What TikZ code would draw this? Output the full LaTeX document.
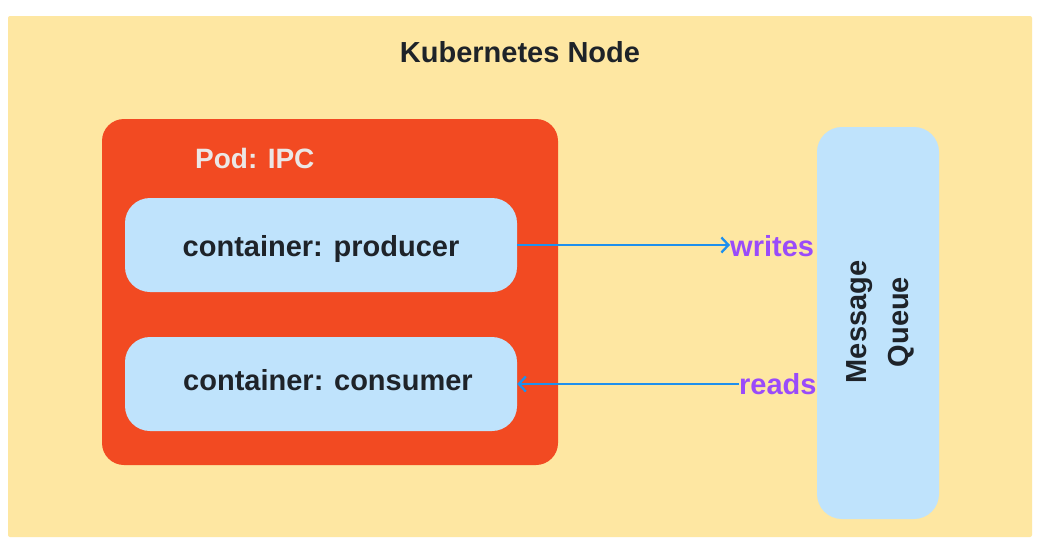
\documentclass[tikz,border=0pt]{standalone}
\usepackage{fontspec}
\setmainfont{Liberation Sans}
\usetikzlibrary{arrows.meta}
\definecolor{bgyellow}{HTML}{FEE7A2}
\definecolor{podred}{HTML}{F24A22}
\definecolor{boxblue}{HTML}{BFE3FC}
\definecolor{darktext}{HTML}{1E2329}
\definecolor{podtext}{HTML}{EBE7E5}
\definecolor{labelpurple}{HTML}{9A4BFA}
\definecolor{arrowblue}{HTML}{1E90EE}
\tikzset{
  box/.style={rectangle, fill=boxblue, draw=none, rounded corners=25pt, inner sep=0pt},
  boxtext/.style={font=\fontsize{29}{34}\selectfont\bfseries, text=darktext, inner sep=0pt},
  lbl/.style={font=\fontsize{29}{34}\selectfont\bfseries, text=labelpurple, inner sep=0pt},
  flow/.style={draw=arrowblue, line width=2.3pt, -{Straight Barb[length=7pt,width=15pt,line width=2.3pt]}},
}
\begin{document}
\begin{tikzpicture}[x=1pt,y=-1pt]
\useasboundingbox (0,0) rectangle (1045,549);
\fill[white] (0,0) rectangle (1045,549);
\node[rectangle, fill=bgyellow, rounded corners=2pt, minimum width=1024pt, minimum height=521pt, inner sep=0pt] (k8s) at (520,276.5) {};
\node[font=\fontsize{29}{34}\selectfont\bfseries, text=darktext, anchor=base, inner sep=0pt] (title) at (520,62) {Kubernetes Node};
\node[rectangle, fill=podred, rounded corners=22pt, minimum width=456pt, minimum height=346pt, inner sep=0pt] (pod) at (330,292) {};
\node[font=\fontsize{28}{34}\selectfont\bfseries, text=podtext, anchor=base west, inner sep=0pt] (podlbl) at (195,168) {Pod: IPC};
\node[box, minimum width=392pt, minimum height=94pt] (producer) at (321,245) {};
\node[boxtext, anchor=base] (producerlbl) at (321,256) {container: producer};
\node[box, minimum width=392pt, minimum height=94pt] (consumer) at (321,384) {};
\node[boxtext, anchor=base] (consumerlbl) at (328,390) {container: consumer};
\node[box, minimum width=122pt, minimum height=392pt] (queue) at (878,323) {};
\node[boxtext, rotate=90, align=center, font=\fontsize{29}{42}\selectfont\bfseries] (queuelbl) at (880,322) {Message\\Queue};
\node[lbl, anchor=base west] (writes) at (730,256) {writes};
\node[lbl, anchor=base west] (reads) at (739,394) {reads};
\draw[flow] (producer.east) -- (producer.east -| writes.west);
\draw[flow] (consumer.east -| reads.west) -- (consumer.east);
\end{tikzpicture}
\end{document}
